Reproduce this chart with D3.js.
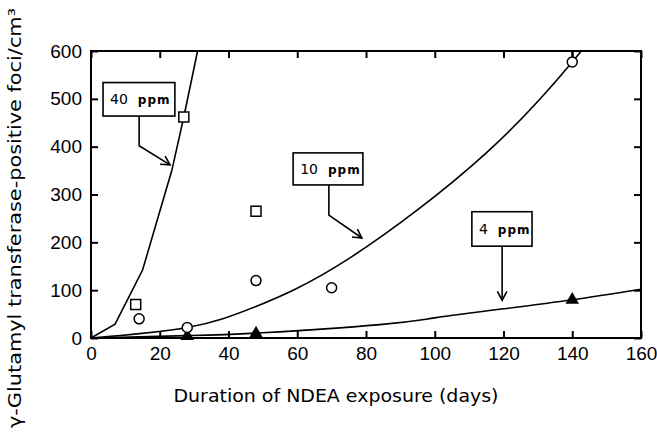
<!DOCTYPE html>
<html>
<head>
<meta charset="utf-8">
<script src="https://cdn.jsdelivr.net/npm/d3@7"></script>
<style>
  body { margin: 0; background: #fff; }
  svg { display: block; font-family: "DejaVu Sans", sans-serif; }
</style>
</head>
<body>
<div id="chart"></div>
<script>
// Observed foci (days, foci/cm3)
const pts40 = [[13, 70], [27, 462], [48, 265]];
const pts10 = [[14, 40], [28, 22], [48, 120], [70, 105], [140, 577]];
const pts4 = [[28, 4], [48, 9], [140, 80]];

// Fitted curves
const curve40 = [[0, 0], [7, 29], [15, 142], [23.5, 350], [27, 462], [31, 600]];
const curve10 = [[0, 0], [28, 22], [48, 66], [75, 166], [115, 387], [140, 577], [146, 630]];
const curve4 = [[0, 0], [28, 5], [50, 11], [84, 28], [100, 42], [120, 61], [140, 80], [160, 102]];

const xTicks = [0, 20, 40, 60, 80, 100, 120, 140, 160];
const yTicks = [0, 100, 200, 300, 400, 500, 600];

// label boxes: [x0, x1, valTop, valBottom], arrow path in data units
const labels = [
  { big: '40', box: [3.5, 24.4, 534, 464], arrow: [[14, 464], [14, 402], [23, 362]] },
  { big: '10', box: [58.8, 79.1, 387, 320], arrow: [[69.2, 320], [69.2, 257], [78.8, 209]] },
  { big: '4', box: [110.8, 128.3, 264, 192], arrow: [[119.6, 192], [119.6, 79]] }
];

const width = 657, height = 433;
const m = { left: 91, top: 51, right: 16, bottom: 95 };
const w = width - m.left - m.right;
const h = height - m.top - m.bottom;

const svg = d3.select('#chart').append('svg')
  .attr('width', width).attr('height', height);

const x = d3.scaleLinear().domain([0, 160]).range([0, w]);
const y = d3.scaleLinear().domain([0, 600]).range([h, 0]);

const g = svg.append('g').attr('transform', `translate(${m.left},${m.top})`);

g.append('clipPath').attr('id', 'clip')
  .append('rect').attr('x', 0).attr('y', 0).attr('width', w).attr('height', h);

// frame
g.append('rect').attr('width', w).attr('height', h)
  .attr('fill', 'none').attr('stroke', '#000').attr('stroke-width', 2);

const styleAxis = sel => {
  sel.select('.domain').remove();
  sel.selectAll('line').attr('stroke', '#000').attr('stroke-width', 2);
  sel.selectAll('text').attr('fill', '#000').attr('font-size', 19);
};

g.append('g').attr('transform', `translate(0,${h})`)
  .call(d3.axisBottom(x).tickValues(xTicks).tickSizeInner(-7).tickSizeOuter(0).tickPadding(9))
  .call(styleAxis);
g.append('g')
  .call(d3.axisTop(x).tickValues(xTicks).tickSizeInner(-7).tickSizeOuter(0).tickFormat(''))
  .call(styleAxis);
g.append('g')
  .call(d3.axisLeft(y).tickValues(yTicks).tickSizeInner(-7).tickSizeOuter(0).tickPadding(9))
  .call(styleAxis);
g.append('g').attr('transform', `translate(${w},0)`)
  .call(d3.axisRight(y).tickValues(yTicks).tickSizeInner(-7).tickSizeOuter(0).tickFormat(''))
  .call(styleAxis);

// curves
const plot = g.append('g').attr('clip-path', 'url(#clip)');
const lineStraight = d3.line().x(d => x(d[0])).y(d => y(d[1]));
const lineSmooth = d3.line().x(d => x(d[0])).y(d => y(d[1])).curve(d3.curveNatural);
[[curve40, lineStraight], [curve10, lineSmooth], [curve4, lineSmooth]].forEach(([c, fn]) => {
  plot.append('path').attr('d', fn(c))
    .attr('fill', 'none').attr('stroke', '#000').attr('stroke-width', 1.6);
});

// error bar on the 140 day point
plot.append('line')
  .attr('x1', x(140)).attr('x2', x(140))
  .attr('y1', y(577)).attr('y2', y(610))
  .attr('stroke', '#000').attr('stroke-width', 2);

// markers
g.selectAll('.sq').data(pts40).join('rect')
  .attr('x', d => x(d[0]) - 5).attr('y', d => y(d[1]) - 5)
  .attr('width', 10).attr('height', 10)
  .attr('fill', '#fff').attr('stroke', '#000').attr('stroke-width', 1.5);
g.selectAll('.tri').data(pts4).join('path')
  .attr('transform', d => `translate(${x(d[0])},${y(d[1])})`)
  .attr('d', d3.symbol(d3.symbolTriangle, 80))
  .attr('fill', '#000');
g.selectAll('.ci').data(pts10).join('circle')
  .attr('cx', d => x(d[0])).attr('cy', d => y(d[1])).attr('r', 5)
  .attr('fill', '#fff').attr('stroke', '#000').attr('stroke-width', 1.5);

// labels with arrows
const arrowLine = d3.line().x(d => x(d[0])).y(d => y(d[1]));
labels.forEach(l => {
  const [a, b, t, bt] = l.box;
  g.append('rect')
    .attr('x', x(a)).attr('y', y(t))
    .attr('width', x(b) - x(a)).attr('height', y(bt) - y(t))
    .attr('fill', '#fff').attr('stroke', '#000').attr('stroke-width', 1.6);
  const txt = g.append('text')
    .attr('x', x(a) + 7).attr('y', (y(t) + y(bt)) / 2 + 5);
  txt.append('tspan').attr('font-size', 14).text(l.big);
  txt.append('tspan').attr('font-size', 12).attr('font-weight', 'bold')
    .attr('dx', 10).attr('letter-spacing', 1).text('ppm');

  const p = l.arrow.map(d => [x(d[0]), y(d[1])]);
  g.append('path').attr('d', arrowLine(l.arrow))
    .attr('fill', 'none').attr('stroke', '#000').attr('stroke-width', 1.6);
  const [p1, p2] = [p[p.length - 2], p[p.length - 1]];
  const ang = Math.atan2(p2[1] - p1[1], p2[0] - p1[0]);
  const L = 10, spread = 0.5;
  const hd = [
    [p2[0] - L * Math.cos(ang - spread), p2[1] - L * Math.sin(ang - spread)],
    p2,
    [p2[0] - L * Math.cos(ang + spread), p2[1] - L * Math.sin(ang + spread)]
  ];
  g.append('path').attr('d', d3.line()(hd))
    .attr('fill', 'none').attr('stroke', '#000').attr('stroke-width', 1.6);
});

// axis titles
svg.append('text')
  .attr('x', m.left + w / 2 - 30).attr('y', 402)
  .attr('text-anchor', 'middle').attr('font-size', 17)
  .attr('textLength', 325).attr('lengthAdjust', 'spacingAndGlyphs')
  .text('Duration of NDEA exposure (days)');
svg.append('text')
  .attr('transform', 'translate(21,218) rotate(-90)')
  .attr('text-anchor', 'middle').attr('font-size', 17)
  .attr('textLength', 420).attr('lengthAdjust', 'spacingAndGlyphs')
  .text('γ-Glutamyl transferase-positive foci/cm³');
</script>
</body>
</html>
